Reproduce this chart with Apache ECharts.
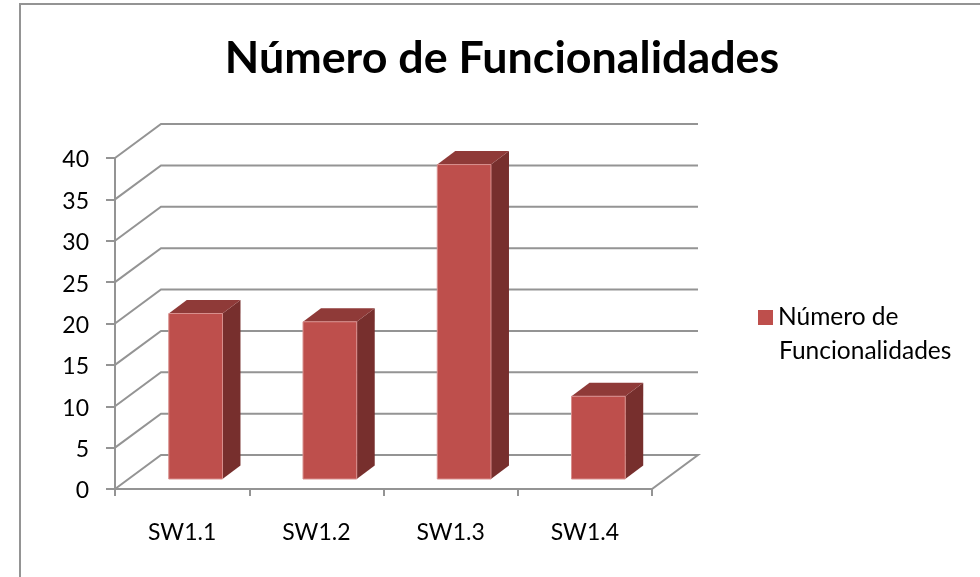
<!DOCTYPE html>
<html>
<head>
<meta charset="utf-8">
<title>Número de Funcionalidades</title>
<script src="https://cdn.jsdelivr.net/npm/echarts@6/dist/echarts.min.js"></script>
<style>
  html, body { margin: 0; height: 100%; background: #fff; }
  #chart { width: 980px; height: 577px; }
</style>
</head>
<body>
<div id="chart"></div>
<script>
var categories = ['SW1.1', 'SW1.2', 'SW1.3', 'SW1.4'];
var funcionalidades = [20, 19, 38, 10];
var yTicks = [0, 5, 10, 15, 20, 25, 30, 35, 40];
var seriesName = 'Número de Funcionalidades';

var fontName = 'Lato';
var gray = '#949494';
// offset of the back wall from the front plane
var depthX = 46, depthY = 34;

function gridItem(params, api) {
    var sys = params.coordSys;
    var y = api.coord([0, api.value(0)])[1];
    var x = sys.x;
    var points = [[x, y], [x + depthX, y - depthY], [x + sys.width + depthX, y - depthY]];
    if (api.value(0) === 0) {
        points.push([x + sys.width, y], [x, y]);
    }
    return {
        type: 'polyline',
        shape: { points: points },
        style: { stroke: gray, lineWidth: 2, fill: null }
    };
}

function barItem(params, api) {
    var base = api.coord([api.value(0), 0]);
    var top = api.coord([api.value(0), api.value(1)]);
    var band = api.size([1, 0])[0];
    var w = band * 0.4;
    // the bar sits inside the floor, not on its front edge
    var x0 = base[0] + 13.5 - w / 2, x1 = x0 + w;
    var y0 = base[1] - 10, y1 = top[1] - 10;
    var dx = 18, dy = 13.5;
    return {
        type: 'group',
        children: [
            {
                type: 'polygon',
                shape: { points: [[x1, y0], [x1 + dx, y0 - dy], [x1 + dx, y1 - dy], [x1, y1]] },
                style: { fill: '#772f2d' }
            },
            {
                type: 'polygon',
                shape: { points: [[x0, y1], [x0 + dx, y1 - dy], [x1 + dx, y1 - dy], [x1, y1]] },
                style: { fill: '#8f3a38' }
            },
            {
                type: 'rect',
                shape: { x: x0, y: y1, width: w, height: y0 - y1 },
                style: { fill: '#be4f4c', stroke: '#d88f8d', lineWidth: 1 }
            }
        ]
    };
}

var myChart = echarts.init(document.getElementById('chart'));
var option = {
    animation: false,
    backgroundColor: '#fff',
    title: {
        text: 'Número de Funcionalidades',
        left: 497,
        top: 31,
        textAlign: 'center',
        textStyle: { fontFamily: fontName, fontWeight: 'bold', fontSize: 44.8, color: '#000' }
    },
    graphic: [
        {
            type: 'polyline',
            silent: true,
            shape: { points: [[20, 590], [20, 4], [990, 4]] },
            style: { stroke: gray, lineWidth: 2, fill: null }
        },
        // the legend entry wraps in the original, second line goes here
        {
            type: 'text',
            silent: true,
            style: {
                x: 779,
                y: 351,
                text: 'Funcionalidades',
                fontFamily: fontName,
                fontSize: 24.5,
                fill: '#000',
                verticalAlign: 'middle'
            }
        }
    ],
    legend: {
        data: [seriesName],
        left: 758,
        top: 305,
        padding: 0,
        icon: 'rect',
        itemWidth: 15,
        itemHeight: 15,
        itemGap: 0,
        formatter: function () {
            return 'Número de';
        },
        textStyle: { fontFamily: fontName, fontSize: 24.5, color: '#000' }
    },
    grid: { left: 115, right: 328, top: 158, bottom: 88 },
    xAxis: {
        type: 'category',
        data: categories,
        axisLine: { lineStyle: { color: gray, width: 2 } },
        axisTick: { show: true, length: 7, lineStyle: { color: gray, width: 2 } },
        axisLabel: { margin: 32, fontFamily: fontName, fontSize: 23, color: '#000' }
    },
    yAxis: {
        type: 'value',
        min: 0,
        max: 40,
        interval: 5,
        axisLine: { show: true, lineStyle: { color: gray, width: 2 } },
        axisTick: { show: true, length: 9, lineStyle: { color: gray, width: 2 } },
        axisLabel: {
            margin: 26,
            formatter: '{n|{value}}',
            rich: {
                n: { padding: [4, 0, 0, 0], fontFamily: fontName, fontSize: 23, color: '#000' }
            }
        },
        splitLine: { show: false }
    },
    series: [
        {
            name: 'grid',
            type: 'custom',
            silent: true,
            z: 1,
            clip: false,
            coordinateSystem: 'cartesian2d',
            encode: { y: 0 },
            data: yTicks.map(function (v) { return [v]; }),
            renderItem: gridItem
        },
        {
            name: seriesName,
            type: 'custom',
            z: 3,
            clip: false,
            coordinateSystem: 'cartesian2d',
            itemStyle: { color: '#be4f4c' },
            encode: { x: 0, y: 1 },
            data: categories.map(function (c, i) { return [i, funcionalidades[i]]; }),
            renderItem: barItem
        }
    ]
};
myChart.setOption(option);
</script>
</body>
</html>
